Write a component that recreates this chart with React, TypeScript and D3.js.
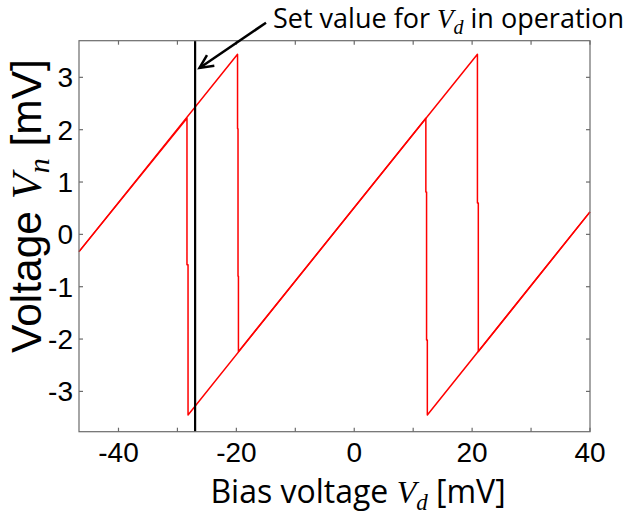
import React from "react";
import * as d3 from "d3";

// Data
const xMajorTicks = [-40, -20, 0, 20, 40];
const xMinorTicks = [-40, -30, -20, -10, 0, 10, 20, 30, 40];
const yTicks = [-3, -2, -1, 0, 1, 2, 3];
const xDomain = [-46.7, 40];
const yDomain = [-3.77, 3.7];

// sweep with increasing bias voltage [Vd, Vn]
const sweepUp: [number, number][] = [
  [-46.7, -0.33], [-19.8, 3.44], [-19.8, 2.02], [-19.72, 2.02], [-19.72, -0.8],
  [-19.65, -0.8], [-19.65, -2.24], [20.9, 3.44], [20.9, 0.6], [21.05, 0.6],
  [21.05, -2.24], [40, 0.43],
];
// sweep with decreasing bias voltage [Vd, Vn]
const sweepDown: [number, number][] = [
  [40, 0.43], [12.4, -3.45], [12.4, -2.02], [12.27, -2.02], [12.27, 0.81],
  [12.15, 0.81], [12.15, 2.22], [-28.2, -3.45], [-28.2, -0.58], [-28.38, -0.58],
  [-28.38, 2.22], [-46.7, -0.33],
];
const setValueVd = -27;

export default function App() {
  const W = 634, H = 518;
  const left = 79, right = 590, top = 40.7, bottom = 431.7;
  const x = d3.scaleLinear().domain(xDomain).range([left, right]);
  const y = d3.scaleLinear().domain(yDomain).range([bottom, top]);
  const line = d3.line<[number, number]>().x(d => x(d[0])).y(d => y(d[1]));
  const axisColor = "#6b6b6b";
  const tickLen = 4;
  const sans = "'Liberation Sans', Arial, sans-serif";
  const ui = "'Open Sans', 'Noto Sans', sans-serif";
  const serifIt = "'Liberation Serif', serif";

  // arrow geometry
  const ax0 = 266, ay0 = 22.7, ax1 = 199.5, ay1 = 68;
  const ang = Math.atan2(ay0 - ay1, ax0 - ax1);
  const hl = 15, ha = 0.45;
  const h1 = [ax1 + hl * Math.cos(ang + ha), ay1 + hl * Math.sin(ang + ha)];
  const h2 = [ax1 + hl * Math.cos(ang - ha), ay1 + hl * Math.sin(ang - ha)];

  return (
    <svg width={W} height={H} style={{ position: "absolute", left: 0, top: 0, background: "#fff" }}>
      <rect x={0} y={0} width={W} height={H} fill="#fff" />
      {/* data */}
      <path d={line(sweepUp) || ""} fill="none" stroke="#ff0000" strokeWidth={1.5} strokeLinejoin="round" />
      <path d={line(sweepDown) || ""} fill="none" stroke="#ff0000" strokeWidth={1.5} strokeLinejoin="round" />
      <line x1={x(setValueVd)} x2={x(setValueVd)} y1={top} y2={bottom} stroke="#000" strokeWidth={2.2} />
      {/* box */}
      <rect x={left} y={top} width={right - left} height={bottom - top} fill="none" stroke={axisColor} strokeWidth={1.2} />
      {xMinorTicks.map(t => (
        <g key={"xt" + t}>
          <line x1={x(t)} x2={x(t)} y1={bottom} y2={bottom - tickLen} stroke={axisColor} strokeWidth={1.2} />
          <line x1={x(t)} x2={x(t)} y1={top} y2={top + tickLen} stroke={axisColor} strokeWidth={1.2} />
        </g>
      ))}
      {yTicks.map(t => (
        <g key={"yt" + t}>
          <line x1={left} x2={left + tickLen} y1={y(t)} y2={y(t)} stroke={axisColor} strokeWidth={1.2} />
          <line x1={right} x2={right - tickLen} y1={y(t)} y2={y(t)} stroke={axisColor} strokeWidth={1.2} />
        </g>
      ))}
      {xMajorTicks.map(t => (
        <text key={"xl" + t} x={x(t)} y={462} textAnchor="middle" fontFamily={sans} fontSize={28} fill="#000">
          {String(t)}
        </text>
      ))}
      {yTicks.map(t => (
        <text key={"yl" + t} x={73} y={y(t) + 10} textAnchor="end" fontFamily={sans} fontSize={28} fill="#000">
          {String(t)}
        </text>
      ))}
      {/* y title */}
      <text transform={`translate(41,${206}) rotate(-90)`} textAnchor="middle" fontFamily={sans} fontSize={42.5} fill="#000">
        Voltage <tspan fontFamily={serifIt} fontStyle="italic">V</tspan>
        <tspan fontFamily={serifIt} fontStyle="italic" fontSize={30} dy={8}>n</tspan>
        <tspan dy={-8}> [mV]</tspan>
      </text>
      {/* x title */}
      <text x={358} y={503} textAnchor="middle" fontFamily={ui} fontSize={32} fill="#000">
        Bias voltage <tspan fontFamily={serifIt} fontStyle="italic">V</tspan>
        <tspan fontFamily={serifIt} fontStyle="italic" fontSize={23} dy={7}>d</tspan>
        <tspan dy={-7}> [mV]</tspan>
      </text>
      {/* annotation */}
      <text x={273} y={28} fontFamily={ui} fontSize={27} fill="#000">
        Set value for <tspan fontFamily={serifIt} fontStyle="italic">V</tspan>
        <tspan fontFamily={serifIt} fontStyle="italic" fontSize={20} dy={6}>d</tspan>
        <tspan dy={-6}> in operation</tspan>
      </text>
      <line x1={ax0} y1={ay0} x2={ax1} y2={ay1} stroke="#000" strokeWidth={2.5} />
      <polyline points={`${h1[0]},${h1[1]} ${ax1},${ay1} ${h2[0]},${h2[1]}`} fill="none" stroke="#000" strokeWidth={2.5} strokeLinejoin="miter" />
    </svg>
  );
}
